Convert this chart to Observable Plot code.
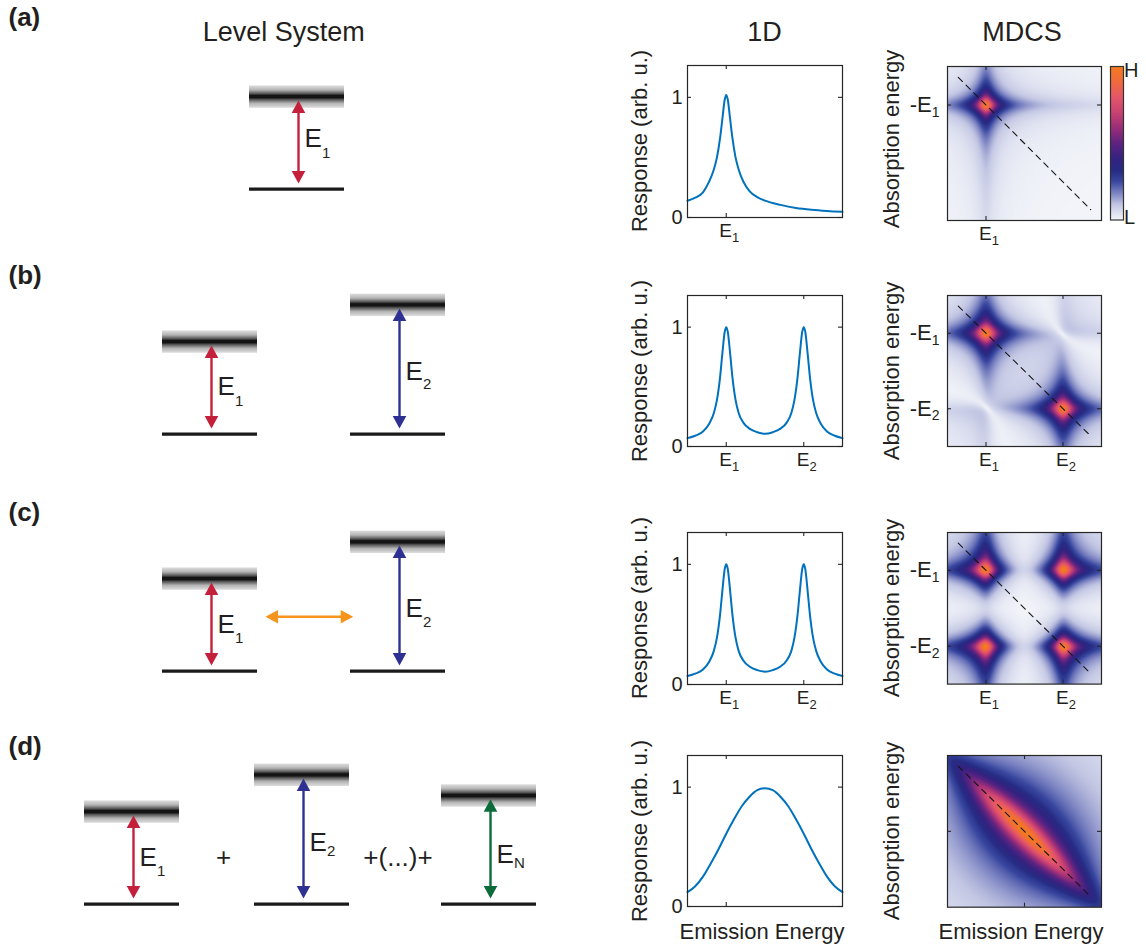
<!DOCTYPE html>
<html><head><meta charset="utf-8">
<script src="https://cdn.jsdelivr.net/npm/d3@7"></script>
<script src="https://cdn.jsdelivr.net/npm/@observablehq/plot@0.6"></script>
<style>
body{margin:0;background:#fff;}
#fig{position:relative;width:1146px;height:947px;font-family:"Liberation Sans",Arial,Helvetica,sans-serif;color:#231f20;overflow:hidden;background:#fff;}
</style></head><body>
<svg width="0" height="0" style="position:absolute">
<defs><linearGradient id="lvlgrad" x1="0" y1="0" x2="0" y2="1">
<stop offset="0" stop-color="#dedede"/><stop offset="0.2" stop-color="#b4b4b4"/><stop offset="0.37" stop-color="#555"/>
<stop offset="0.45" stop-color="#141414"/><stop offset="0.55" stop-color="#141414"/><stop offset="0.63" stop-color="#555"/>
<stop offset="0.8" stop-color="#b4b4b4"/><stop offset="1" stop-color="#dedede"/>
</linearGradient></defs></svg>
<div id="fig"></div>
<script>
// ================= DATA =================
const panelLetters = ["(a)", "(b)", "(c)", "(d)"];
const columnTitles = ["Level System", "1D", "MDCS"];
const yAxisLabel1D = "Response (arb. u.)";
const yAxisLabel2D = "Absorption energy";
const xAxisLabel = "Emission Energy";
const colorbarLabels = ["H", "L"];

// transition energies of the level systems (units of E1)
const levelNames = ["E1", "E2", "EN"];
const levelEnergies = [1.0, 1.4, 1.175];
const rowSystems = [["E1"], ["E1", "E2"], ["E1", "E2"], ["E1", "E2", "EN"]];
const couplingRow = 2;          // (c) has the coupling arrow
const couplingEnergy = 0.59;    // height of the coupling arrow
const sumTexts = ["+", "+(...)+"];

// energy axes (normalised 0..1)
const peakEnergies = [0.25, 0.75];            // E1, E2
const emissionTickNames = ["E1", "E2"];
const absorptionTicks = [-0.25, -0.75];
const absorptionTickNames = ["-E1", "-E2"];
const responseTicks = [0, 1];
const responseMax = 1.265;

// 1D spectra
const spectrumA_x = [0,0.05,0.1,0.14,0.17,0.19,0.21,0.225,0.24,0.25,0.26,0.275,0.29,0.31,0.33,0.36,0.4,0.45,0.5,0.6,0.7,0.8,0.9,1];
const spectrumA_y = [0.14,0.165,0.21,0.30,0.40,0.50,0.66,0.82,0.98,1.02,0.98,0.82,0.66,0.50,0.40,0.30,0.22,0.17,0.14,0.105,0.08,0.065,0.055,0.048];
const spectrumB_x = [0,0.05,0.1,0.14,0.17,0.19,0.21,0.225,0.24,0.25,0.26,0.275,0.29,0.31,0.33,0.36,0.4,0.45,0.5,0.55,0.6,0.64,0.67,0.69,0.71,0.725,0.74,0.75,0.76,0.775,0.79,0.81,0.83,0.86,0.9,0.95,1];
const spectrumB_y = [0.07,0.09,0.125,0.19,0.28,0.39,0.58,0.78,0.96,1.0,0.96,0.78,0.58,0.39,0.28,0.2,0.15,0.12,0.107,0.12,0.15,0.2,0.28,0.39,0.58,0.78,0.96,1.0,0.96,0.78,0.58,0.39,0.28,0.19,0.125,0.09,0.07];
const spectrumC_x = [0,0.05,0.1,0.14,0.17,0.19,0.21,0.225,0.24,0.25,0.26,0.275,0.29,0.31,0.33,0.36,0.4,0.45,0.5,0.55,0.6,0.64,0.67,0.69,0.71,0.725,0.74,0.75,0.76,0.775,0.79,0.81,0.83,0.86,0.9,0.95,1];
const spectrumC_y = [0.07,0.09,0.125,0.19,0.28,0.39,0.58,0.78,0.96,1.0,0.96,0.78,0.58,0.39,0.28,0.2,0.15,0.12,0.107,0.12,0.15,0.2,0.28,0.39,0.58,0.78,0.96,1.0,0.96,0.78,0.58,0.39,0.28,0.19,0.125,0.09,0.07];
const spectrumD_x = [0,0.05,0.1,0.15,0.2,0.25,0.3,0.35,0.4,0.45,0.5,0.55,0.6,0.65,0.7,0.75,0.8,0.85,0.9,0.95,1];
const spectrumD_y = [0.12,0.17,0.25,0.36,0.48,0.61,0.73,0.84,0.92,0.975,0.99,0.975,0.92,0.84,0.73,0.61,0.48,0.36,0.25,0.17,0.12];

// 2D (MDCS) lineshape parameters
const linewidth2D = [0.042, 0.05, 0.048, 0.05];
const inhomCenter = 0.5;
const inhomSigma = 0.28;
const diagonalEnds = [0.07, 0.93];

// ================= STYLE / LAYOUT =================
const INK = "#231f20";
const FONT = '"Liberation Sans", Arial, Helvetica, sans-serif';
const transColor = {E1: "#c41f3b", E2: "#2e3192", EN: "#0b6b3a"};
const couplingColor = "#f7941d";
const cmapPos = [0, 0.1, 0.18, 0.25, 0.32, 0.4, 0.5, 0.6, 0.7, 0.8, 0.9, 1];
const cmapCol = ["#f4f6fa","#c2c6e3","#7880c0","#3a48a0","#262c84","#342280","#5e2380","#9a2e7a","#c94272","#e5566a","#f06b3d","#f47b20"];
const cmap = (t) => {
  t = Math.max(0, Math.min(1, t));
  let i = 0;
  while (i < cmapPos.length - 2 && t > cmapPos[i + 1]) i++;
  const u = (t - cmapPos[i]) / (cmapPos[i + 1] - cmapPos[i]);
  return d3.interpolateRgb(cmapCol[i], cmapCol[i + 1])(u);
};
const LY = {
  oneDLeft: 687, oneDW: 155, oneDTop: [65, 295, 532, 755], oneDH: [152, 151, 152, 151],
  mdLeft: 946.5, mdW: 154, mdTop: [66, 295, 531.7, 755], mdH: [154, 151, 151.6, 151.7],
  ground: [189, 434, 671, 903.3], unit: 92,
  sysLeft: [[249], [162, 350], [162, 350], [84, 254, 441]], sysW: 95, arrowOff: 49,
  labelE: [[0.46], [0.424, 0.587], [0.41, 0.59], [0.416, 0.58, 0.452]],
  subShift: [[11.5], [11, 8.5], [10, 10], [10, 5, 5]],
  couplingX: [265, 352.7], sumX: [223, 397.5], sumE: 0.416,
  letterBase: [26.5, 284.5, 521.5, 755.5]
};
const fig = document.getElementById("fig");
const NS = "http://www.w3.org/2000/svg";
// arrow head: tip at the origin, pointing up
const headSym = {draw(ctx) { ctx.moveTo(0, 0); ctx.lineTo(6.8, 12.5); ctx.lineTo(-6.8, 12.5); ctx.closePath(); }};

function place(el, left, top) {
  el.style.position = "absolute"; el.style.left = left + "px"; el.style.top = top + "px";
  el.style.maxWidth = "none"; el.style.overflow = "visible";
  fig.appendChild(el);
}
function htmlText(str, x, baseline, size, opt = {}) {
  const d = document.createElement("div");
  d.textContent = str;
  d.style.cssText = `position:absolute;white-space:nowrap;font-size:${size}px;line-height:1;font-weight:${opt.weight || "normal"};color:${INK};top:${baseline - 0.8465 * size}px;left:${x}px;` + (opt.anchor === "middle" ? "transform:translateX(-50%);" : "");
  fig.appendChild(d);
}
function htmlRot(str, cx, cy, size) {
  const d = document.createElement("div");
  d.textContent = str;
  d.style.cssText = `position:absolute;white-space:nowrap;font-size:${size}px;line-height:1.117;left:${cx}px;top:${cy}px;transform:translate(-50%,-50%) rotate(-90deg);color:${INK};`;
  fig.appendChild(d);
}
function subscriptify(svg, sel, subSize, shift, dx) {
  svg.querySelectorAll(sel).forEach(t => {
    const m = /^(-?E)([0-9N])$/.exec(t.textContent);
    if (!m) return;
    t.textContent = "";
    const a = document.createElementNS(NS, "tspan"); a.textContent = m[1];
    const b = document.createElementNS(NS, "tspan"); b.textContent = m[2];
    b.setAttribute("font-size", subSize); b.setAttribute("dy", shift);
    t.append(a, b);
    if (dx) t.setAttribute("dx", dx);
  });
}

// ================= LEVEL SYSTEMS =================
const energyOf = n => levelEnergies[levelNames.indexOf(n)];
const bandHalf = 11.2 / LY.unit;
for (let r = 0; r < 4; r++) {
  const sys = rowSystems[r].map((n, i) => ({
    E: energyOf(n), left: LY.sysLeft[r][i], right: LY.sysLeft[r][i] + LY.sysW,
    ax: LY.sysLeft[r][i] + LY.arrowOff, color: transColor[n], sub: n.slice(1),
    labE: LY.labelE[r][i], subY: LY.labelE[r][i] - LY.subShift[r][i] / LY.unit
  }));
  const marks = [
    Plot.rect(sys, {x1: "left", x2: "right", y1: d => d.E - bandHalf, y2: d => d.E + bandHalf, fill: "url(#lvlgrad)"}),
    Plot.ruleY(sys, {y: 0, x1: "left", x2: "right", stroke: "#1a1a1a", strokeWidth: 3.2}),
    Plot.ruleX(sys, {x: "ax", y1: "E", y2: 0, stroke: "color", strokeWidth: 2.4, insetTop: 14.8, insetBottom: 17}),
    Plot.dot(sys, {x: "ax", y: "E", symbol: headSym, r: 5, fill: "color", dy: 3.3}),
    Plot.dot(sys, {x: "ax", y: 0, symbol: headSym, r: 5, fill: "color", rotate: 180, dy: -5.5}),
    Plot.text(sys, {x: d => d.ax + 6, y: "labE", text: () => "E", textAnchor: "start", lineAnchor: "bottom", fontSize: 26, fill: INK}),
    Plot.text(sys, {x: d => d.ax + 23.5, y: "subY", text: "sub", textAnchor: "start", lineAnchor: "bottom", fontSize: 15, fill: INK})
  ];
  if (r === couplingRow) {
    const c = [{x1: LY.couplingX[0], x2: LY.couplingX[1], y: couplingEnergy}];
    marks.push(
      Plot.ruleY(c, {y: "y", x1: "x1", x2: "x2", stroke: couplingColor, strokeWidth: 2.6, insetLeft: 11.5, insetRight: 11.5}),
      Plot.dot(c, {x: "x1", y: "y", symbol: headSym, r: 5, fill: couplingColor, rotate: -90}),
      Plot.dot(c, {x: "x2", y: "y", symbol: headSym, r: 5, fill: couplingColor, rotate: 90})
    );
  }
  if (r === 3) {
    const s = sumTexts.map((t, i) => ({t, x: LY.sumX[i], y: LY.sumE}));
    marks.push(Plot.text(s, {x: "x", y: "y", text: "t", textAnchor: "middle", lineAnchor: "bottom", fontSize: 26, fill: INK, letterSpacing: 1}));
  }
  const svg = Plot.plot({
    width: 560, height: 184, margin: 0,
    x: {domain: [0, 560], axis: null}, y: {domain: [-0.2, 1.8], axis: null},
    color: {type: "identity"},
    style: {background: "transparent", fontFamily: FONT, overflow: "visible"},
    marks
  });
  place(svg, 0, LY.ground[r] - 1.8 * LY.unit);
}

// ================= 1D SPECTRA =================
const spectra = [
  spectrumA_x.map((x, i) => ({x, y: spectrumA_y[i]})),
  spectrumB_x.map((x, i) => ({x, y: spectrumB_y[i]})),
  spectrumC_x.map((x, i) => ({x, y: spectrumC_y[i]})),
  spectrumD_x.map((x, i) => ({x, y: spectrumD_y[i]}))
];
const xTicksRow = [[peakEnergies[0]], peakEnergies, peakEnergies, [peakEnergies[0]]];
const xLabelRow = [true, true, true, false];
for (let r = 0; r < 4; r++) {
  const fw = LY.oneDW, fh = LY.oneDH[r];
  const mL = 60, mR = 10, mT = 10, mB = 40;
  const xt = xTicksRow[r];
  const svg = Plot.plot({
    width: mL + fw + mR, height: mT + fh + mB,
    marginLeft: mL, marginRight: mR, marginTop: mT, marginBottom: mB,
    x: {domain: [0, 1], label: null}, y: {domain: [0, responseMax], label: null},
    style: {background: "transparent", fontFamily: FONT, color: INK, overflow: "visible"},
    marks: [
      Plot.line(spectra[r], {x: "x", y: "y", stroke: "#0072bd", strokeWidth: 2, curve: "monotone-x"}),
      Plot.frame({stroke: "#262626", strokeWidth: 1.2}),
      Plot.ruleY(responseTicks, {stroke: "#262626", strokeWidth: 1.1, insetRight: fw - 4}),
      Plot.ruleY(responseTicks, {stroke: "#262626", strokeWidth: 1.1, insetLeft: fw - 4}),
      Plot.ruleX(xt, {stroke: "#262626", strokeWidth: 1.1, insetTop: fh - 4}),
      Plot.ruleX(xt, {stroke: "#262626", strokeWidth: 1.1, insetBottom: fh - 4}),
      Plot.axisY(responseTicks, {tickSize: 0, tickPadding: 5, fontSize: 20, label: null, fill: INK, tickFormat: d => String(d)}),
      Plot.axisX(xLabelRow[r] ? xt : [], {tickSize: 0, tickPadding: 6, fontSize: 19, label: null, fill: INK,
        tickFormat: d => emissionTickNames[peakEnergies.indexOf(d)]})
    ]
  });
  subscriptify(svg, 'g[aria-label="x-axis tick label"] text', 13, 5, 3);
  place(svg, LY.oneDLeft - mL, LY.oneDTop[r] - mT);
}

// ================= MDCS 2D SPECTRA =================
// complex lineshapes: emission L(d) = g/(g - i d); absorption (conjugate) M(d) = g/(g + i d)
function Lc(d, g) { const den = g * g + d * d; return [g * g / den, g * d / den]; }
function Mc(d, g) { const den = g * g + d * d; return [g * g / den, -g * d / den]; }
function cmul(a, b) { return [a[0] * b[0] - a[1] * b[1], a[0] * b[1] + a[1] * b[0]]; }
const [E1, E2] = peakEnergies;
const inhomE = d3.range(-0.5, 1.5001, 0.01);
const inhomW = inhomE.map(e => Math.exp(-((e - inhomCenter) ** 2) / (2 * inhomSigma * inhomSigma)));
const models = [
  (x, y) => { const g = linewidth2D[0]; const p = cmul(Lc(x - E1, g), Mc(y + E1, g)); return Math.hypot(p[0], p[1]); },
  (x, y) => {
    const g = linewidth2D[1];
    const p1 = cmul(Lc(x - E1, g), Mc(y + E1, g)), p2 = cmul(Lc(x - E2, g), Mc(y + E2, g));
    return Math.hypot(p1[0] + p2[0], p1[1] + p2[1]);
  },
  (x, y) => {
    const g = linewidth2D[2];
    const a = Lc(x - E1, g), b = Lc(x - E2, g), c = Mc(y + E1, g), d = Mc(y + E2, g);
    return Math.hypot(a[0] + b[0], a[1] + b[1]) * Math.hypot(c[0] + d[0], c[1] + d[1]);
  },
  (x, y) => {
    const g = linewidth2D[3]; let re = 0, im = 0;
    for (let k = 0; k < inhomE.length; k++) {
      const p = cmul(Lc(x - inhomE[k], g), Lc(y + inhomE[k], g));
      re += inhomW[k] * p[0]; im += inhomW[k] * p[1];
    }
    return Math.hypot(re, im);
  }
];
const mdXTicks = [[E1], peakEnergies, peakEnergies, [0.5]];
const mdYTicks = [[absorptionTicks[0]], absorptionTicks, absorptionTicks, [-0.5]];
const mdLabels = [true, true, true, false];
for (let r = 0; r < 4; r++) {
  const f = models[r];
  let vmax = 0;
  for (let i = 0; i <= 76; i++) for (let j = 0; j <= 76; j++) vmax = Math.max(vmax, f(i / 76, -j / 76));
  const fw = LY.mdW, fh = LY.mdH[r];
  const mL = 60, mR = 10, mT = 10, mB = 40;
  const svg = Plot.plot({
    width: mL + fw + mR, height: mT + fh + mB,
    marginLeft: mL, marginRight: mR, marginTop: mT, marginBottom: mB,
    x: {domain: [0, 1], label: null}, y: {domain: [-1, 0], label: null},
    color: {type: "linear", domain: [0, vmax], interpolate: cmap, clamp: true},
    style: {background: "transparent", fontFamily: FONT, color: INK, overflow: "visible"},
    marks: [
      Plot.raster({x1: 0, x2: 1, y1: -1, y2: 0, fill: f, pixelSize: 1}),
      Plot.line(diagonalEnds, {x: d => d, y: d => -d, stroke: "#151515", strokeWidth: 1.1, strokeDasharray: "6,5"}),
      Plot.frame({stroke: "#262626", strokeWidth: 1.2}),
      Plot.ruleY(mdYTicks[r], {stroke: "#262626", strokeWidth: 1.1, insetRight: fw - 4}),
      Plot.ruleY(mdYTicks[r], {stroke: "#262626", strokeWidth: 1.1, insetLeft: fw - 4}),
      Plot.ruleX(mdXTicks[r], {stroke: "#262626", strokeWidth: 1.1, insetTop: fh - 4}),
      Plot.ruleX(mdXTicks[r], {stroke: "#262626", strokeWidth: 1.1, insetBottom: fh - 4}),
      Plot.axisY(mdLabels[r] ? mdYTicks[r] : [], {tickSize: 0, tickPadding: 8, fontSize: 22, label: null, fill: INK,
        tickFormat: d => absorptionTickNames[absorptionTicks.indexOf(d)]}),
      Plot.axisX(mdLabels[r] ? mdXTicks[r] : [], {tickSize: 0, tickPadding: 6, fontSize: 19, label: null, fill: INK,
        tickFormat: d => emissionTickNames[peakEnergies.indexOf(d)]})
    ]
  });
  subscriptify(svg, 'g[aria-label="x-axis tick label"] text', 13, 5, 3);
  subscriptify(svg, 'g[aria-label="y-axis tick label"] text', 14, 4.5, 0);
  place(svg, LY.mdLeft - mL, LY.mdTop[r] - mT);
}

// colour bar
{
  const cb = Plot.plot({
    width: 13, height: 153.5, margin: 0,
    x: {domain: [0, 1], axis: null}, y: {domain: [0, 1], axis: null},
    color: {type: "linear", domain: [0, 1], interpolate: cmap},
    style: {background: "transparent", overflow: "visible"},
    marks: [Plot.raster({x1: 0, x2: 1, y1: 0, y2: 1, fill: (x, y) => y, pixelSize: 1}), Plot.frame({stroke: "#333", strokeWidth: 1.2})]
  });
  place(cb, 1110, 66.3);
  htmlText(colorbarLabels[0], 1124, 77, 20);
  htmlText(colorbarLabels[1], 1124, 224, 20);
}

// ================= TEXT =================
panelLetters.forEach((t, i) => htmlText(t, 8.5, LY.letterBase[i], 26, {weight: "bold"}));
htmlText(columnTitles[0], 283.8, 42, 27, {anchor: "middle"});
htmlText(columnTitles[1], LY.oneDLeft + LY.oneDW / 2, 42, 27, {anchor: "middle"});
htmlText(columnTitles[2], 1022, 42, 27, {anchor: "middle"});
for (let r = 0; r < 4; r++) {
  htmlRot(yAxisLabel1D, 640, LY.oneDTop[r] + LY.oneDH[r] / 2, 22);
  htmlRot(yAxisLabel2D, 891.5, LY.mdTop[r] + LY.mdH[r] / 2 - (r === 0 ? 4 : 0), 22);
}
htmlText(xAxisLabel, 762, 940, 22, {anchor: "middle"});
htmlText(xAxisLabel, 1021, 940, 22, {anchor: "middle"});
</script></body></html>
